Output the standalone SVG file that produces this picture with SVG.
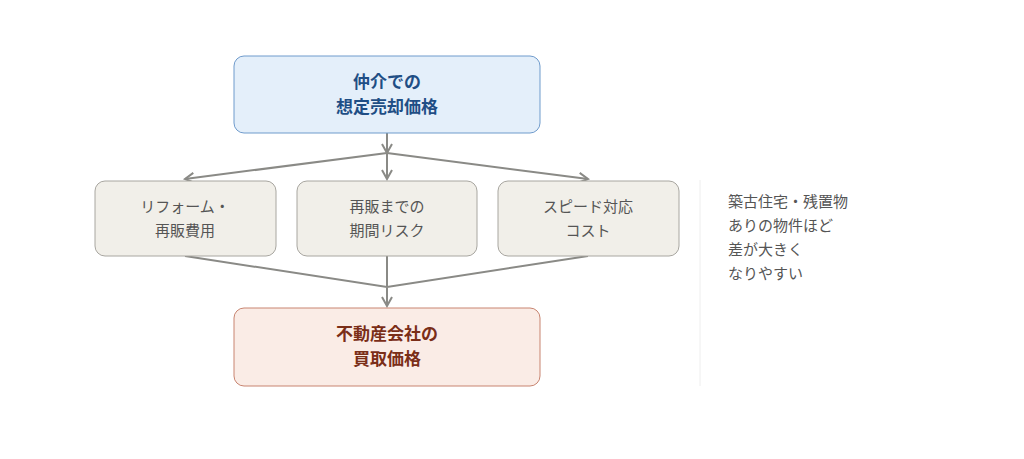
<svg xmlns="http://www.w3.org/2000/svg" width="1024" height="459" viewBox="0 0 1024 459">
<style>
text{font-family:"Noto Sans CJK JP","Noto Sans",sans-serif;text-anchor:middle}
.t{font-size:17px;font-weight:bold}
.m{font-size:15px;fill:#555}
.c{stroke:#8a8a86;stroke-width:2;fill:none}
</style>
<defs><marker id="a" viewBox="0 0 12 12" refX="10" refY="6" markerWidth="12" markerHeight="12" markerUnits="userSpaceOnUse" orient="auto"><path d="M1 1L10 6L1 11" fill="none" stroke="#8a8a86" stroke-width="2"/></marker></defs>
<rect width="1024" height="459" fill="#fff"/>
<g id="connectors">
<path class="c" d="M387 133V153" marker-end="url(#a)"/>
<path class="c" d="M387 153L185 179" marker-end="url(#a)"/>
<path class="c" d="M387 153V179" marker-end="url(#a)"/>
<path class="c" d="M387 153L588 179" marker-end="url(#a)"/>
<path class="c" d="M185 256L387 287L588 256M387 256V306" />
<path class="c" d="M387 290V306" marker-end="url(#a)"/>
</g>
<g id="top"><rect x="234" y="56" width="306" height="77" rx="10" fill="#e4effa" stroke="#6f9bcc"/>
<text class="t" x="387" y="88" fill="#1f4e85">仲介での</text><text class="t" x="387" y="113" fill="#1f4e85">想定売却価格</text></g>
<g id="n1"><rect x="95" y="181" width="181" height="75" rx="10" fill="#f1efe9" stroke="#a8a6a0"/>
<text class="m" x="185" y="212">リフォーム・</text><text class="m" x="185" y="236">再販費用</text></g>
<g id="n2"><rect x="297" y="181" width="180" height="75" rx="10" fill="#f1efe9" stroke="#a8a6a0"/>
<text class="m" x="387" y="212">再販までの</text><text class="m" x="387" y="236">期間リスク</text></g>
<g id="n3"><rect x="498" y="181" width="181" height="75" rx="10" fill="#f1efe9" stroke="#a8a6a0"/>
<text class="m" x="588" y="212">スピード対応</text><text class="m" x="588" y="236">コスト</text></g>
<g id="bottom"><rect x="234" y="308" width="306" height="78" rx="10" fill="#faece6" stroke="#c88470"/>
<text class="t" x="387" y="340" fill="#7a2e18">不動産会社の</text><text class="t" x="387" y="365" fill="#7a2e18">買取価格</text></g>
<line x1="700" y1="180" x2="700" y2="386" stroke="#eeeeee"/>
<g id="note" style="font-size:15px;fill:#555">
<text x="728" y="207" style="text-anchor:start">築古住宅・残置物</text>
<text x="728" y="231" style="text-anchor:start">ありの物件ほど</text>
<text x="728" y="255" style="text-anchor:start">差が大きく</text>
<text x="728" y="279" style="text-anchor:start">なりやすい</text>
</g>
</svg>
